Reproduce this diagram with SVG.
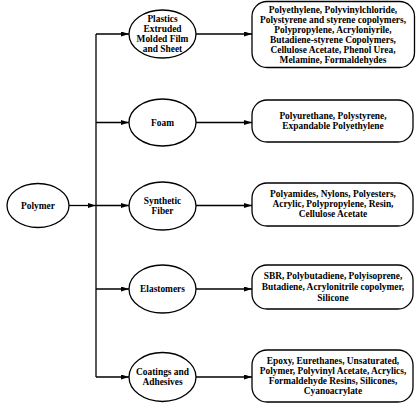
<svg xmlns="http://www.w3.org/2000/svg" width="419" height="408" viewBox="0 0 419 408">
<style>
.n{fill:#fff;stroke:#000;stroke-width:1.3}
.t{font-family:"Liberation Serif","Times New Roman",serif;font-weight:bold;font-size:9.4px;fill:#000;text-anchor:middle;dominant-baseline:central}
.c{fill:none;stroke:#000;stroke-width:1.3}
</style>
<defs>
<marker id="ah" viewBox="0 0 10 10" refX="10" refY="5" markerWidth="8" markerHeight="5" markerUnits="userSpaceOnUse" orient="auto" preserveAspectRatio="none">
<path d="M0,0L10,5L0,10z" fill="#000"/>
</marker>
</defs>
<rect width="419" height="408" fill="#fff"/>
<g id="connectors">
<line class="c" x1="96" y1="34" x2="96" y2="377"/>
<line class="c" x1="68" y1="205.5" x2="96" y2="205.5" marker-end="url(#ah)"/>
<line class="c" x1="96" y1="34" x2="129" y2="34" marker-end="url(#ah)"/>
<line class="c" x1="96" y1="122.5" x2="129" y2="122.5" marker-end="url(#ah)"/>
<line class="c" x1="96" y1="205.5" x2="129" y2="205.5" marker-end="url(#ah)"/>
<line class="c" x1="96" y1="289" x2="129" y2="289" marker-end="url(#ah)"/>
<line class="c" x1="96" y1="377" x2="129" y2="377" marker-end="url(#ah)"/>
<line class="c" x1="196" y1="34" x2="252" y2="34" marker-end="url(#ah)"/>
<line class="c" x1="196" y1="122.5" x2="252" y2="122.5" marker-end="url(#ah)"/>
<line class="c" x1="196" y1="205.5" x2="252" y2="205.5" marker-end="url(#ah)"/>
<line class="c" x1="196" y1="289" x2="252" y2="289" marker-end="url(#ah)"/>
<line class="c" x1="196" y1="377" x2="252" y2="377" marker-end="url(#ah)"/>
</g>
<g id="polymer">
<ellipse class="n" cx="38" cy="205.5" rx="31" ry="22"/>
<text class="t" x="38" y="205.5">Polymer</text>
</g>
<g id="plastics">
<ellipse class="n" cx="162.5" cy="34" rx="33.5" ry="24"/>
<text class="t" x="162.5" y="19">Plastics</text>
<text class="t" x="162.5" y="29">Extruded</text>
<text class="t" x="162.5" y="39">Molded Film</text>
<text class="t" x="162.5" y="49">and Sheet</text>
</g>
<g id="foam">
<ellipse class="n" cx="162.5" cy="122.5" rx="33.5" ry="23.5"/>
<text class="t" x="162.5" y="122.5">Foam</text>
</g>
<g id="synthetic">
<ellipse class="n" cx="162.5" cy="206" rx="33.5" ry="24"/>
<text class="t" x="162.5" y="201">Synthetic</text>
<text class="t" x="162.5" y="211">Fiber</text>
</g>
<g id="elastomers">
<ellipse class="n" cx="162.5" cy="289" rx="33.5" ry="24"/>
<text class="t" x="162.5" y="289">Elastomers</text>
</g>
<g id="coatings">
<ellipse class="n" cx="162.5" cy="377" rx="33.5" ry="24.5"/>
<text class="t" x="162.5" y="372">Coatings and</text>
<text class="t" x="162.5" y="382">Adhesives</text>
</g>
<g id="box-plastics">
<rect class="n" x="252" y="1.5" width="162.5" height="66" rx="15"/>
<text class="t" x="333" y="9.5">Polyethylene, Polyvinylchloride,</text>
<text class="t" x="333" y="19.5">Polystyrene and styrene copolymers,</text>
<text class="t" x="333" y="29.5">Polypropylene, Acryloniyrile,</text>
<text class="t" x="333" y="39.5">Butadiene-styrene Copolymers,</text>
<text class="t" x="333" y="49.5">Cellulose Acetate, Phenol Urea,</text>
<text class="t" x="333" y="59.5">Melamine, Formaldehydes</text>
</g>
<g id="box-foam">
<rect class="n" x="252" y="100" width="161" height="42" rx="15"/>
<text class="t" x="333" y="116">Polyurethane, Polystyrene,</text>
<text class="t" x="333" y="126">Expandable Polyethylene</text>
</g>
<g id="box-synthetic">
<rect class="n" x="252" y="183" width="161" height="43" rx="15"/>
<text class="t" x="333" y="194">Polyamides, Nylons, Polyesters,</text>
<text class="t" x="333" y="204">Acrylic, Polypropylene, Resin,</text>
<text class="t" x="333" y="214">Cellulose Acetate</text>
</g>
<g id="box-elastomers">
<rect class="n" x="252" y="265" width="161" height="44" rx="15"/>
<text class="t" x="333" y="276">SBR, Polybutadiene, Polyisoprene,</text>
<text class="t" x="333" y="287">Butadiene, Acrylonitrile copolymer,</text>
<text class="t" x="333" y="298">Silicone</text>
</g>
<g id="box-coatings">
<rect class="n" x="252" y="350" width="161" height="52" rx="15"/>
<text class="t" x="333" y="361">Epoxy, Eurethanes, Unsaturated,</text>
<text class="t" x="333" y="371">Polymer, Polyvinyl Acetate, Acrylics,</text>
<text class="t" x="333" y="381">Formaldehyde Resins, Silicones,</text>
<text class="t" x="333" y="391">Cyanoacrylate</text>
</g>
</svg>
